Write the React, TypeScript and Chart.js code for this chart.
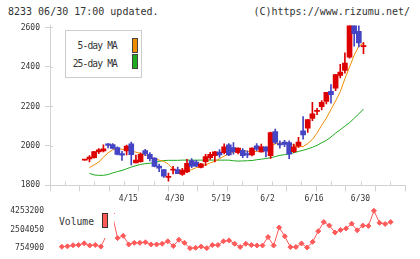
import React, { useEffect, useRef } from 'react';
import { Chart, registerables } from 'chart.js';

Chart.register(...registerables);

// ---- data ----
const opens = [1928, 1934, 1941, 1970, 1975, 2010, 2007, 1991, 1961, 1975, 2010, 1914, 1920, 1976, 1958, 1938, 1898, 1880, 1840, 1877, 1880, 1855, 1868, 1926, 1918, 1891, 1920, 1940, 1950, 1969, 1966, 2006, 1991, 1966, 1978, 1961, 1955, 2000, 1970, 1995, 1950, 2073, 2012, 2019, 2017, 1971, 2000, 2077, 2090, 2139, 2175, 2199, 2226, 2277, 2292, 2357, 2383, 2450, 2620, 2581, 2503];
const highs = [1928, 1951, 1972, 1987, 2005, 2012, 2012, 1995, 1972, 2004, 2020, 1953, 1965, 1983, 1966, 1941, 1908, 1882, 1862, 1896, 1893, 1886, 1932, 1936, 1927, 1912, 1958, 1967, 1972, 1981, 2010, 2012, 2017, 1990, 1987, 1975, 1990, 2012, 2009, 1996, 2070, 2085, 2026, 2028, 2026, 2009, 2043, 2148, 2135, 2221, 2190, 2230, 2272, 2311, 2362, 2413, 2471, 2630, 2640, 2612, 2523];
const lows = [1928, 1919, 1938, 1961, 1970, 1990, 1985, 1955, 1926, 1955, 1904, 1914, 1918, 1950, 1924, 1893, 1870, 1840, 1822, 1858, 1859, 1851, 1864, 1890, 1895, 1888, 1900, 1932, 1919, 1942, 1960, 1950, 1958, 1960, 1941, 1941, 1949, 1975, 1968, 1944, 1937, 2012, 1988, 1996, 1936, 1966, 1992, 2034, 2068, 2128, 2158, 2182, 2213, 2216, 2280, 2345, 2369, 2445, 2505, 2501, 2467];
const closes = [1928, 1944, 1971, 1980, 1985, 2002, 1987, 1957, 1953, 1999, 1956, 1928, 1958, 1960, 1936, 1896, 1887, 1847, 1846, 1881, 1860, 1877, 1912, 1898, 1898, 1909, 1946, 1957, 1970, 1954, 1996, 1955, 1971, 1989, 1950, 1955, 1989, 1984, 1995, 1974, 2068, 2018, 2005, 2007, 1958, 1996, 2019, 2056, 2133, 2163, 2179, 2221, 2272, 2260, 2362, 2374, 2420, 2615, 2569, 2522, 2506];
const ma5 = [null, 1890, 1904, 1918, 1943, 1965, 1980, 1986, 1983, 1980, 1975, 1968, 1962, 1955, 1946, 1936, 1928, 1922, 1907, 1884, 1868, 1864, 1870, 1880, 1890, 1896, 1904, 1914, 1922, 1935, 1948, 1960, 1968, 1976, 1978, 1973, 1971, 1972, 1976, 1985, 1998, 2010, 2015, 2014, 2012, 2003, 1995, 1997, 2012, 2033, 2065, 2105, 2140, 2185, 2228, 2275, 2340, 2400, 2460, 2505, 2522];
const ma25 = [null, 1861, 1853, 1851, 1851, 1855, 1863, 1870, 1876, 1884, 1893, 1900, 1906, 1910, 1912, 1916, 1922, 1926, 1927, 1927, 1927, 1928, 1928, 1928, 1928, 1928, 1928, 1928, 1928, 1928, 1928, 1928, 1925, 1923, 1924, 1925, 1926, 1930, 1933, 1936, 1940, 1946, 1952, 1956, 1960, 1965, 1972, 1978, 1985, 1993, 2003, 2016, 2028, 2045, 2065, 2082, 2100, 2118, 2140, 2162, 2187];
const volumes = [null, 890000, 930000, 1030000, 1060000, 1210000, 1010000, 1060000, 905000, 1970000, 4000000, 1698000, 1910000, 1107000, 1257000, 1257000, 1310000, 1107000, 1107000, 1169000, 1398000, 958000, 1548000, 1257000, 754900, 790000, 905000, 760000, 1046000, 1046000, 1398000, 1486000, 1169000, 870000, 1169000, 1046000, 1010000, 1010000, 1800000, 1010000, 2690000, 1870000, 860000, 870000, 1200000, 817000, 1350000, 2350000, 3200000, 2870000, 2226000, 2460000, 2600000, 3050000, 2429000, 2870000, 2840000, 4253200, 3130000, 3020000, 3200000];
const dateTicks = ['4/15', '4/30', '5/19', '6/2', '6/16', '6/30'];
const dateTickIndex = [10, 20, 30, 40, 50, 60];
const priceTicks = [1800, 2000, 2200, 2400, 2600];
const volumeTicks = [754900, 2504050, 4253200];

// ---- styles ----
const RED = '#dc0000';
const BLUE = '#4444c4';
const ORANGE = '#f08c00';
const GREEN = '#1eaa1e';
const VOL = '#ff5a5a';
const AXIS = '#d2d2d2';
const TEXT = '#333333';
const MONO = '"DejaVu Sans Mono", monospace';
const X_MIN = -1.13;
const X_MAX = 62.57;

Chart.defaults.font.family = MONO;

const innerTicks = {
  id: 'innerTicks',
  afterDraw(chart: any) {
    const { ctx, chartArea } = chart;
    const y = chart.scales.y;
    const x2 = chart.scales.x2;
    ctx.save();
    ctx.strokeStyle = AXIS;
    ctx.lineWidth = 1;
    ctx.beginPath();
    y.ticks.forEach((t: any) => {
      const py = Math.round(y.getPixelForValue(t.value)) + 0.5;
      ctx.moveTo(chartArea.left, py);
      ctx.lineTo(chartArea.left + 3, py);
    });
    x2.ticks.forEach((t: any) => {
      const px = Math.round(x2.getPixelForValue(t.value)) + 0.5;
      ctx.moveTo(px, chartArea.bottom - 4);
      ctx.lineTo(px, chartArea.bottom);
    });
    ctx.stroke();
    ctx.restore();
  },
};

export default function App() {
  const mainRef = useRef<HTMLCanvasElement>(null);
  const volRef = useRef<HTMLCanvasElement>(null);

  useEffect(() => {
    const idx = opens.map((_, i) => i);
    const candleColor = (c: any) => (closes[c.dataIndex] >= opens[c.dataIndex] ? RED : BLUE);
    const main = new Chart(mainRef.current as HTMLCanvasElement, {
      type: 'bar',
      data: {
        datasets: [
          {
            type: 'line',
            label: '5-day MA',
            data: ma5.map((v, i) => ({ x: i, y: v })),
            borderColor: ORANGE,
            borderWidth: 1,
            pointRadius: 0,
            order: 2,
          } as any,
          {
            type: 'line',
            label: '25-day MA',
            data: ma25.map((v, i) => ({ x: i, y: v })),
            borderColor: GREEN,
            borderWidth: 1,
            pointRadius: 0,
            order: 2,
          } as any,
          {
            type: 'bar',
            label: 'body',
            data: idx.map((i) => ({ x: i, y: [opens[i], closes[i]] })),
            backgroundColor: candleColor,
            barThickness: 5,
            minBarLength: 1,
            grouped: false,
            order: 0,
            clip: 0,
          } as any,
          {
            type: 'bar',
            label: 'wick',
            data: idx.map((i) => ({ x: i, y: [lows[i], highs[i]] })),
            backgroundColor: candleColor,
            barThickness: 1,
            grouped: false,
            order: 1,
            clip: 0,
          } as any,
        ],
      },
      options: {
        animation: false,
        responsive: false,
        maintainAspectRatio: false,
        layout: { padding: { top: 25.5, right: 15, left: 0, bottom: 0 } },
        plugins: { legend: { display: false }, tooltip: { enabled: false } },
        scales: {
          x: {
            type: 'linear',
            min: X_MIN,
            max: X_MAX,
            position: 'bottom',
            weight: 1,
            grid: { display: false, drawTicks: false },
            border: { display: false },
            afterBuildTicks: (s: any) => {
              s.ticks = dateTickIndex.map((v) => ({ value: v }));
            },
            ticks: {
              callback: (v: any) => {
                const k = dateTickIndex.indexOf(Number(v));
                return k >= 0 ? dateTicks[k] : '';
              },
              font: { family: MONO, size: 8 },
              color: TEXT,
              padding: 3,
              maxRotation: 0,
              autoSkip: false,
              labelOffset: -3,
            },
          },
          x2: {
            type: 'linear',
            min: 0,
            max: 11,
            position: 'bottom',
            weight: 0,
            ticks: { display: false, stepSize: 1 },
            grid: { drawOnChartArea: false, drawTicks: true, tickLength: 6, color: AXIS },
            border: { display: true, color: AXIS },
          },
          y: {
            type: 'linear',
            min: 1800,
            max: 2610,
            afterBuildTicks: (s: any) => {
              s.ticks = priceTicks.map((v) => ({ value: v }));
            },
            afterFit: (s: any) => {
              s.width = 50;
            },
            grid: { drawOnChartArea: false, tickLength: 5, color: AXIS },
            border: { color: AXIS },
            ticks: {
              font: { family: MONO, size: 8 },
              color: TEXT,
              padding: 5,
              callback: (v: any) => String(v),
            },
          },
        },
      } as any,
      plugins: [innerTicks],
    });

    const vol = new Chart(volRef.current as HTMLCanvasElement, {
      type: 'line',
      data: {
        datasets: [
          {
            label: 'Volume',
            data: volumes.map((v, i) => ({ x: i, y: v })),
            borderColor: VOL,
            backgroundColor: VOL,
            borderWidth: 1,
            pointStyle: 'rectRot',
            pointRadius: 2.5,
            pointBorderWidth: 1,
            pointBackgroundColor: VOL,
            pointBorderColor: VOL,
            clip: false,
          } as any,
        ],
      },
      options: {
        animation: false,
        responsive: false,
        maintainAspectRatio: false,
        layout: { padding: { top: 9.3, right: 15, left: 0, bottom: 10 } },
        plugins: { legend: { display: false }, tooltip: { enabled: false } },
        scales: {
          x: { type: 'linear', min: X_MIN, max: X_MAX, display: false },
          y: {
            type: 'linear',
            min: volumeTicks[0],
            max: volumeTicks[2],
            afterBuildTicks: (s: any) => {
              s.ticks = volumeTicks.map((v) => ({ value: v }));
            },
            afterFit: (s: any) => {
              s.width = 50;
            },
            grid: { display: false, drawTicks: false },
            border: { display: false },
            ticks: {
              font: { family: MONO, size: 8 },
              color: TEXT,
              padding: 6,
              callback: (v: any) => String(v),
            },
          },
        },
      } as any,
    });

    return () => {
      main.destroy();
      vol.destroy();
    };
  }, []);

  const mono = { fontFamily: MONO, color: TEXT, whiteSpace: 'nowrap' as const, position: 'absolute' as const };

  return (
    <div style={{ position: 'fixed', left: 0, top: 0, width: 420, height: 259, background: '#fff', overflow: 'hidden' }}>
      <div style={{ ...mono, left: 8, top: 6, fontSize: 10, lineHeight: '12px' }}>8233 06/30 17:00 updated.</div>
      <div style={{ ...mono, right: 10, top: 6, fontSize: 10, lineHeight: '12px' }}>(C)https://www.rizumu.net/</div>
      <canvas ref={mainRef} width={420} height={207} style={{ position: 'absolute', left: 0, top: 0 }} />
      <canvas ref={volRef} width={420} height={59} style={{ position: 'absolute', left: 0, top: 200 }} />
      <div style={{ position: 'absolute', left: 65, top: 30, width: 75, height: 46, border: '1px solid #cccccc', background: '#fff' }}>
        <div style={{ ...mono, right: 24, top: 9, fontSize: 9.6, lineHeight: '12px', letterSpacing: '-0.85px' }}>5-day MA</div>
        <div style={{ ...mono, right: 24, top: 26.5, fontSize: 9.6, lineHeight: '12px', letterSpacing: '-0.85px' }}>25-day MA</div>
        <div style={{ position: 'absolute', left: 65.5, top: 6.5, width: 4, height: 13, background: ORANGE, border: '1px solid #444' }} />
        <div style={{ position: 'absolute', left: 65.5, top: 23, width: 4, height: 13, background: GREEN, border: '1px solid #444' }} />
      </div>
      <div style={{ position: 'absolute', left: 55, top: 206, width: 59, height: 32, background: '#fff' }}>
        <div style={{ ...mono, left: 4, top: 9.5, fontSize: 9.7, lineHeight: '12px' }}>Volume</div>
        <div style={{ position: 'absolute', left: 46.5, top: 7.3, width: 4, height: 13, background: VOL, border: '1px solid #333' }} />
      </div>
    </div>
  );
}
